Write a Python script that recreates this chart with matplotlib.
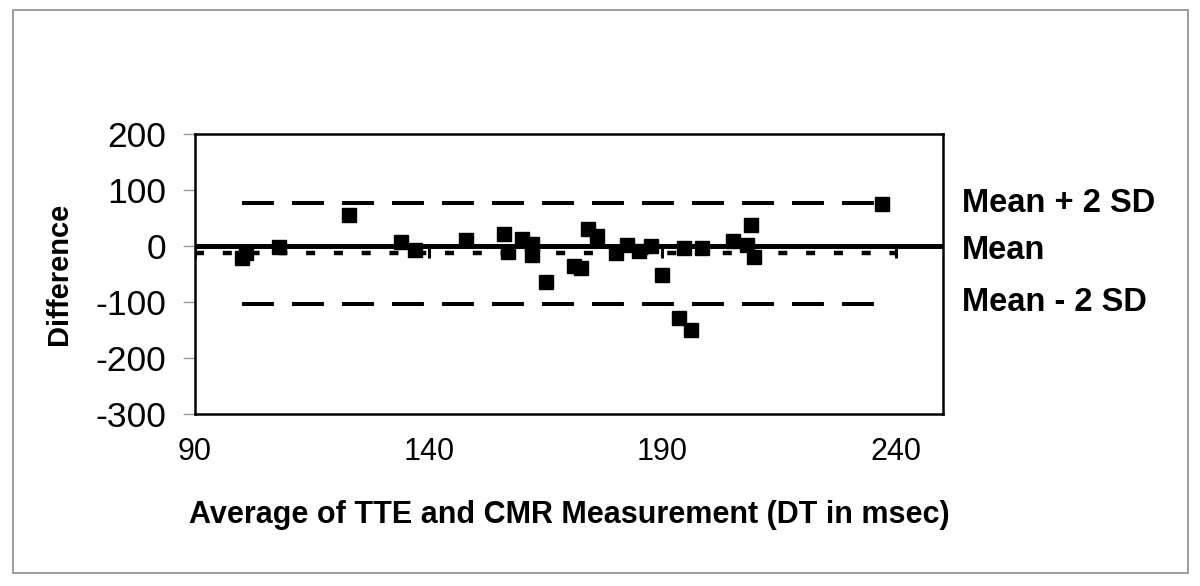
import matplotlib
matplotlib.use("Agg")
import matplotlib.pyplot as plt
from matplotlib.patches import Rectangle

plt.rcParams['font.family'] = ['Liberation Sans', 'DejaVu Sans']
plt.rcParams['lines.scale_dashes'] = False
plt.rcParams['axes.unicode_minus'] = False

# Bland-Altman data: average (x) vs difference (y)
avg = [100, 101, 108, 123, 134, 137, 148, 156, 157, 160, 162, 162, 165,
       171, 172.5, 174, 176, 180, 182.5, 185, 187.5, 190, 193.5, 196,
       194.5, 198.5, 205, 208, 209, 209.5, 237]
diff = [-20, -11, -2, 56, 7, -6, 12, 22, -10, 13, 4, -15, -63,
        -35, -39, 31, 18, -12, 3, -9, 1, -52, -128, -150,
        -3, -3, 10, 3, 38, -19, 76]

mean_diff = -12
upper_loa = 78
lower_loa = -102
zero_line = 0

x_min, x_max = 90, 250
y_min, y_max = -300, 200
x_ticks = [90, 140, 190, 240]
y_ticks = [-300, -200, -100, 0, 100, 200]
mean_ticks = [90, 140, 190, 240]

fig = plt.figure(figsize=(12, 5.86), dpi=100)
fig.patches.append(Rectangle((13 / 1200, 1 - 573 / 586), 1175 / 1200, 563 / 586,
                             transform=fig.transFigure, fill=False,
                             edgecolor='#8c8c8c', linewidth=1.2))

ax = fig.add_axes([0.1625, 0.2927, 0.6233, 0.4782])

# reference lines
ax.plot([x_min, x_max], [zero_line, zero_line], color='black', lw=3.6,
        solid_capstyle='butt', zorder=2)
ax.plot([90, 240], [mean_diff, mean_diff], color='black', lw=3.2,
        dashes=(6.5, 13.5), dash_capstyle='butt', zorder=2)
ax.plot(mean_ticks, [mean_diff] * len(mean_ticks), ls='none', marker='|',
        ms=7, mew=2.2, color='black', zorder=2)
lo, hi = min(avg), max(avg)
ax.plot([lo, hi], [upper_loa, upper_loa], color='black', lw=2.9,
        dashes=(23, 13), dash_capstyle='butt', zorder=2)
ax.plot([lo, hi], [lower_loa, lower_loa], color='black', lw=2.9,
        dashes=(23, 13), dash_capstyle='butt', zorder=2)

ax.plot(avg, diff, ls='none', marker='s', ms=9.4, color='black', zorder=3)

ax.set_xlim(x_min, x_max)
ax.set_ylim(y_min, y_max)
ax.set_xticks(x_ticks)
ax.set_yticks(y_ticks)
ax.tick_params(axis='y', length=8.5, width=1, color='#999999', pad=12,
               labelsize=25.5)
ax.tick_params(axis='x', length=0, pad=16, labelsize=22)
for s in ax.spines.values():
    s.set_linewidth(1.8)

ax.set_xlabel('Average of TTE and CMR Measurement (DT in msec)',
              fontsize=22, fontweight='bold', labelpad=24)
ax.set_ylabel('Difference', fontsize=21, fontweight='bold', labelpad=16)

lab_kw = dict(transform=ax.get_yaxis_transform(), fontsize=23.5,
              fontweight='bold', va='center', ha='left', clip_on=False)
ax.text(1.025, upper_loa - 2, 'Mean + 2 SD', **lab_kw)
ax.text(1.025, zero_line - 7, 'Mean', **lab_kw)
ax.text(1.025, lower_loa + 2, 'Mean - 2 SD', **lab_kw)

fig.savefig('out.png', dpi=100)
